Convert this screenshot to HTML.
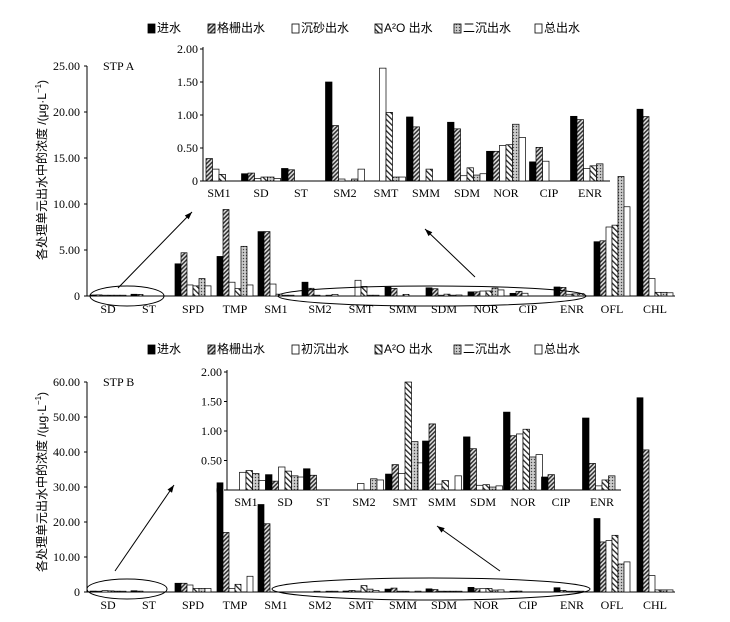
<!DOCTYPE html>
<html><head><meta charset="utf-8"><style>
html,body{margin:0;padding:0;background:#fff;}
svg{display:block;}
text{font-family:"Liberation Serif","Noto Serif CJK SC",serif;font-size:12px;fill:#000;}
.cj{font-family:"Liberation Sans","Noto Sans CJK SC",sans-serif;font-size:12px;}
</style></head><body>
<svg id="s" width="730" height="622" xmlns="http://www.w3.org/2000/svg">
<defs>
<pattern id="p1" width="3" height="3" patternUnits="userSpaceOnUse" patternTransform="rotate(45)"><rect width="3" height="3" fill="#ddd"/><rect width="1.5" height="3" fill="#333"/></pattern>
<pattern id="p3" width="4" height="4" patternUnits="userSpaceOnUse" patternTransform="rotate(-45)"><rect width="4" height="4" fill="#fff"/><rect width="1.3" height="4" fill="#222"/></pattern>
<pattern id="p4" width="3" height="3" patternUnits="userSpaceOnUse"><rect width="3" height="3" fill="#bbb"/><rect width="1" height="1" fill="#444"/><rect x="1.5" y="1.5" width="1" height="1" fill="#fff"/></pattern>
</defs>
<g id="g"></g>
</svg>
<script>
var g=document.getElementById('g'),h='';
var fills=['#000','url(#p1)','#fff','url(#p3)','url(#p4)','#fff'];
function T(x,y,s,a,c){h+='<text x="'+x+'" y="'+y+'" text-anchor="'+(a||'middle')+'"'+(c?' class="cj"':'')+'>'+s+'</text>';}
function L(x1,y1,x2,y2){h+='<line x1="'+x1+'" y1="'+y1+'" x2="'+x2+'" y2="'+y2+'" stroke="#000" stroke-width="1"/>';}
function bars(cx,base,scale,vals,bw){var x0=cx-bw*3;for(var i=0;i<6;i++){var v=vals[i];if(!v)continue;var hh=v*scale;if(hh<0.8)hh=0.8;h+='<rect x="'+(x0+i*bw)+'" y="'+(base-hh)+'" width="'+bw+'" height="'+hh+'" fill="'+fills[i]+'" stroke="#000" stroke-width="0.7"/>';}}
function legend(y,names){var xs=[148,208,292,375,454,535];for(var i=0;i<6;i++){h+='<rect x="'+xs[i]+'" y="'+(y-8)+'" width="7" height="9" fill="'+fills[i]+'" stroke="#000" stroke-width="0.8"/>';T(xs[i]+9,y,names[i],'start',1);}}
function arrow(x1,y1,x2,y2){L(x1,y1,x2,y2);var a=Math.atan2(y2-y1,x2-x1),l=8;var p=[[x2,y2],[x2-l*Math.cos(a-0.35),y2-l*Math.sin(a-0.35)],[x2-l*Math.cos(a+0.35),y2-l*Math.sin(a+0.35)]];h+='<polygon points="'+p.join(' ')+'" fill="#000"/>';}
var cats=['SD','ST','SPD','TMP','SM1','SM2','SMT','SMM','SDM','NOR','CIP','ENR','OFL','CHL'];
var cx=[108,149,193,235,276,320,361,403,444,486,528,572,612,655];
var icats=['SM1','SD','ST','SM2','SMT','SMM','SDM','NOR','CIP','ENR'];
function panel(o){
 legend(o.ly,o.leg);
 // main axis
 L(87,o.top,87,o.base);L(87,o.base,675,o.base);
 for(var i=0;i<o.ticks.length;i++){var y=o.base-i*o.tstep;L(84,y,87,y);T(80,y+4,o.ticks[i],'end');}
 T(103,o.top+4,o.stp,'start');
 h+='<text class="cj" transform="translate(46,'+o.ymid+') rotate(-90)" text-anchor="middle">各处理单元出水中的浓度 /(μg·L<tspan dy="-5" font-size="8">−1</tspan><tspan dy="5">)</tspan></text>';
 for(var i=0;i<14;i++){T(cx[i],o.base+17,cats[i]);bars(cx[i],o.base,o.ms,o.md[i],6);}
 // inset
 L(o.ix,o.itop,o.ix,o.ibase);L(o.ix,o.ibase,o.iend,o.ibase);
 var it=['0','0.50','1.00','1.50','2.00'];
 for(var i=0;i<5;i++){var y=o.ibase-i*o.istep;L(o.ix-3,y,o.ix,y);T(o.ix-5,y+4,it[i],'end');}
 for(var i=0;i<10;i++){T(o.icx[i],o.ibase+16,icats[i]);bars(o.icx[i],o.ibase,o.istep*2,o.id[i],6.5);}
 h+='<ellipse cx="'+o.e1[0]+'" cy="'+o.e1[1]+'" rx="'+o.e1[2]+'" ry="'+o.e1[3]+'" fill="none" stroke="#000"/>';
 h+='<ellipse cx="'+o.e2[0]+'" cy="'+o.e2[1]+'" rx="'+o.e2[2]+'" ry="'+o.e2[3]+'" fill="none" stroke="#000"/>';
 arrow.apply(null,o.a1);arrow.apply(null,o.a2);
}
var iA=[[0,0.34,0.18,0.10,0,0],[0.11,0.12,0.04,0.06,0.06,0.04],[0.19,0.17,0,0,0,0],[1.5,0.84,0.03,0,0.03,0.18],[0,0,1.71,1.04,0.06,0.06],[0.97,0.82,0,0.18,0,0],[0.89,0.79,0.08,0.2,0.09,0.11],[0.45,0.45,0.54,0.55,0.86,0.66],[0.29,0.51,0.3,0,0,0],[0.98,0.93,0.19,0.23,0.26,0]];
var mA=[iA[1],iA[2],[3.5,4.7,1.2,1.1,1.9,1.1],[4.3,9.4,1.5,0.8,5.4,1.2],[7.0,7.0,1.3,0.2,0.05,0.05],iA[3],iA[4],iA[5],iA[6],iA[7],iA[8],iA[9],[5.9,6.0,7.5,7.7,13.0,9.7],[20.3,19.5,1.9,0.4,0.4,0.35]];
panel({ly:32,leg:['进水','格栅出水','沉砂出水','A²O 出水','二沉出水','总出水'],top:66,base:296,tstep:46,ticks:['0','5.00','10.00','15.00','20.00','25.00'],stp:'STP A',ymid:170,ms:9.2,md:mA,
 ix:203,itop:47,ibase:181,istep:33,iend:610,icx:[219,261,301,345,386,426,467,506,549,590],id:iA,
 e1:[127,296,37,10],e2:[432,296,154,10],a1:[118,288,192,212],a2:[475,277,425,229]});
var iB=[[0,0,0.3,0.33,0.28,0.16],[0.26,0.15,0.39,0.32,0.24,0.22],[0.36,0.25,0,0,0,0],[0,0,0.11,0,0.19,0.17],[0.27,0.43,0.28,1.83,0.82,0.46],[0.83,1.12,0.1,0.16,0,0.24],[0.9,0.7,0.08,0.09,0.05,0.07],[1.32,0.92,0.95,1.03,0.56,0.6],[0.22,0.26,0,0,0,0],[1.22,0.45,0.07,0.17,0.24,0]];
var mB=[iB[1],iB[2],[2.5,2.5,2.0,1.0,1.0,1.0],[31.2,17.0,1.0,2.2,0,4.5],[25,19.5,0,0,0,0],iB[3],[0.27,0.43,0.28,1.83,0.82,0.46],iB[5],iB[6],iB[7],iB[8],iB[9],[21,14.3,14.7,16.2,8,8.6],[55.5,40.6,4.7,0.6,0.6,0.6]];
panel({ly:353,leg:['进水','格栅出水','初沉出水','A²O 出水','二沉出水','总出水'],top:382,base:592,tstep:35,ticks:['0','10.00','20.00','30.00','40.00','50.00','60.00'],stp:'STP B',ymid:482,ms:3.5,md:mB,
 ix:227,itop:370,ibase:490,istep:29.5,iend:621,icx:[246,285,323,364,405,442,483,523,561,602],id:iB,
 e1:[127,589,40,10],e2:[431,589,159,11],a1:[115,571,174,485],a2:[500,571,437,526]});
g.innerHTML=h;
</script>
</body></html>
